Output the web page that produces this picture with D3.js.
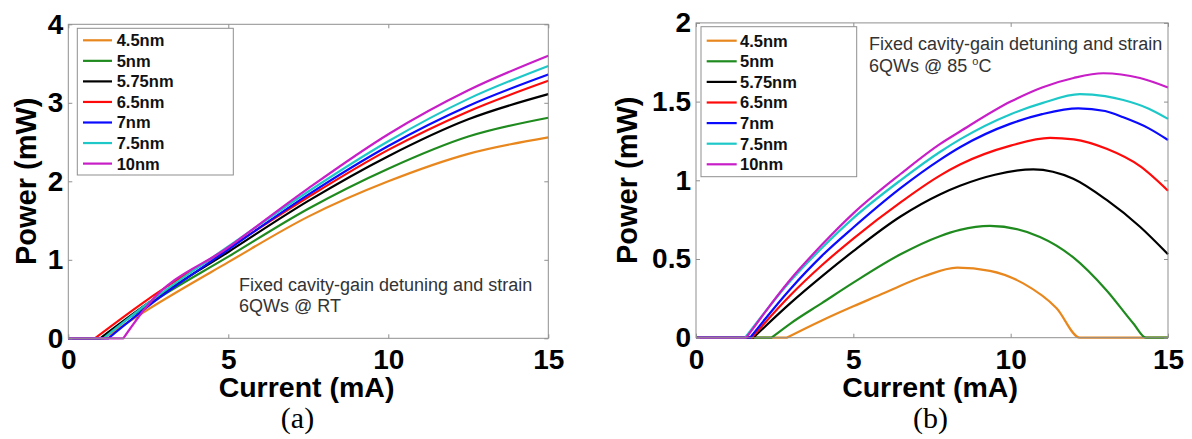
<!DOCTYPE html>
<html>
<head>
<meta charset="utf-8">
<script src="https://cdn.jsdelivr.net/npm/d3@7"></script>
<style>
  html, body { margin: 0; padding: 0; background: #fff; }
  svg { display: block; }
</style>
</head>
<body>
<svg id="chart" width="1192" height="439"></svg>
<script>
// ---------------- DATA ----------------
const seriesNames = ["4.5nm", "5nm", "5.75nm", "6.5nm", "7nm", "7.5nm", "10nm"];
const xTicks = [0, 5, 10, 15];
const yTicksA = [0, 1, 2, 3, 4];
const yTicksB = [0, 0.5, 1, 1.5, 2];
const xLabel = "Current (mA)";
const yLabel = "Power (mW)";
const noteA = ["Fixed cavity-gain detuning and strain", "6QWs @ RT"];
const noteB = ["Fixed cavity-gain detuning and strain", "6QWs @ 85 "];
const captions = ["(a)", "(b)"];

// Panel (a): room temperature, [current mA, power mW]
const rt_4_5nm  = [[0,0],[1.1,0],[2.5,0.37],[5,0.97],[7.5,1.55],[10,2.0],[12.5,2.35],[15,2.56]];
const rt_5nm    = [[0,0],[1.0,0],[2.5,0.43],[5,1.04],[7.5,1.65],[10,2.16],[12.5,2.57],[15,2.81]];
const rt_5_75nm = [[0,0],[1.0,0],[2.5,0.45],[5,1.10],[7.5,1.75],[10,2.32],[12.5,2.79],[15,3.11]];
const rt_6_5nm  = [[0,0],[0.83,0],[2.5,0.50],[5,1.15],[7.5,1.80],[10,2.40],[12.5,2.89],[15,3.28]];
const rt_7nm    = [[0,0],[1.25,0],[2.5,0.41],[5,1.13],[7.5,1.83],[10,2.45],[12.5,2.96],[15,3.36]];
const rt_7_5nm  = [[0,0],[1.1,0],[2.5,0.45],[5,1.17],[7.5,1.87],[10,2.51],[12.5,3.05],[15,3.47]];
const rt_10nm   = [[0,0],[1.72,0],[2.5,0.43],[5,1.16],[7.5,1.91],[10,2.60],[12.5,3.16],[15,3.60]];

// Panel (b): 85 C, [current mA, power mW]
const ht_4_5nm  = [[0,0],[2.88,0],[4,0.11],[5,0.2],[6,0.285],[6.5,0.33],[7.25,0.39],[8.3,0.445],[9.34,0.425],[10.4,0.345],[11.46,0.187],[12.2,0],[15,0]];
const ht_5nm    = [[0,0],[2.4,0],[3,0.09],[4,0.22],[5,0.35],[6.5,0.53],[7.75,0.645],[8.39,0.685],[9.34,0.71],[10.93,0.64],[11.99,0.51],[13.05,0.30],[13.9,0.09],[14.3,0],[15,0]];
const ht_5_75nm = [[0,0],[1.82,0],[3,0.22],[4,0.39],[5,0.55],[6.5,0.77],[7.75,0.91],[8.39,0.965],[9.5,1.035],[10.72,1.07],[11.99,1.01],[13.05,0.875],[14.11,0.705],[15,0.53]];
const ht_6_5nm  = [[0,0],[1.77,0],[3,0.27],[4,0.46],[5,0.63],[6.5,0.86],[7.75,1.03],[8.39,1.1],[10,1.22],[11.25,1.27],[12,1.26],[13.05,1.2],[14.11,1.09],[15,0.934]];
const ht_7nm    = [[0,0],[1.72,0],[3,0.31],[4,0.52],[5,0.70],[6.5,0.95],[7.75,1.13],[8.39,1.21],[10,1.36],[11,1.42],[12.15,1.457],[13,1.44],[13.58,1.40],[14.39,1.33],[15,1.256]];
const ht_7_5nm  = [[0,0],[1.56,0],[3,0.36],[4,0.57],[5,0.76],[6.5,1.0],[7.75,1.18],[8.39,1.26],[10,1.42],[11,1.49],[12.2,1.548],[13,1.535],[13.58,1.51],[14.39,1.455],[15,1.39]];
const ht_10nm   = [[0,0],[1.6,0],[3,0.37],[4,0.59],[5,0.79],[6.5,1.04],[7.75,1.23],[8.39,1.31],[10,1.50],[11,1.59],[12,1.65],[12.94,1.68],[14.11,1.65],[15,1.59]];

const seriesA = [rt_4_5nm, rt_5nm, rt_5_75nm, rt_6_5nm, rt_7nm, rt_7_5nm, rt_10nm];
const seriesB = [ht_4_5nm, ht_5nm, ht_5_75nm, ht_6_5nm, ht_7nm, ht_7_5nm, ht_10nm];

// ---------------- STYLE ----------------
const colors = ["#e8871e", "#1f8b1f", "#000000", "#ff0a0a", "#0a0aff", "#1ec8c8", "#c81ec8"];
const axisColor = "#8f8f8f";
const sans = "'Liberation Sans', Arial, Helvetica, sans-serif";
const serif = "'Liberation Serif', 'Times New Roman', serif";

const svg = d3.select("#chart");

function drawPanel(o) {
  const x = d3.scaleLinear().domain([0, 15]).range([o.x0, o.x1]);
  const y = d3.scaleLinear().domain([0, o.ymax]).range([o.y0, o.y1]);
  const g = svg.append("g");

  // data lines: flat part below threshold is straight, rest is smooth
  const mono = d3.line().x(d => x(d[0])).y(d => y(d[1])).curve(d3.curveMonotoneX);
  o.series.forEach((s, i) => {
    let k = 0;
    while (k + 1 < s.length && s[k + 1][1] === 0) k++;
    const tail = mono(s.slice(k));
    const d = `M${x(s[0][0])},${y(s[0][1])}L` + tail.slice(1);
    g.append("path").attr("d", d)
      .attr("fill", "none").attr("stroke", colors[i])
      .attr("stroke-width", 2.2).attr("stroke-linejoin", "round");
  });

  // axes with inward ticks
  const fmt = d3.format("~g");
  const styleAxis = sel => {
    sel.select(".domain").remove();
    sel.selectAll(".tick line").attr("stroke", axisColor).attr("stroke-width", 1);
    sel.selectAll(".tick text").attr("fill", "#000").style("font-family", sans)
      .style("font-weight", "bold").style("font-size", "28px");
  };
  g.append("g").attr("transform", `translate(0,${o.y0})`)
    .call(d3.axisBottom(x).tickValues(xTicks).tickSizeInner(-4).tickSizeOuter(0).tickPadding(11).tickFormat(fmt))
    .call(styleAxis);
  g.append("g").attr("transform", `translate(0,${o.y1})`)
    .call(d3.axisTop(x).tickValues(xTicks).tickSizeInner(-4).tickSizeOuter(0).tickFormat(""))
    .call(styleAxis);
  g.append("g").attr("transform", `translate(${o.x0},0)`)
    .call(d3.axisLeft(y).tickValues(o.yTicks).tickSizeInner(-4).tickSizeOuter(0).tickPadding(5).tickFormat(fmt))
    .call(styleAxis);
  g.append("g").attr("transform", `translate(${o.x1},0)`)
    .call(d3.axisRight(y).tickValues(o.yTicks).tickSizeInner(-4).tickSizeOuter(0).tickFormat(""))
    .call(styleAxis);

  // box
  g.append("rect").attr("x", o.x0).attr("y", o.y1)
    .attr("width", o.x1 - o.x0).attr("height", o.y0 - o.y1)
    .attr("fill", "none").attr("stroke", axisColor).attr("stroke-width", 1);

  // legend
  const L = o.legend;
  g.append("rect").attr("x", L.x).attr("y", L.y).attr("width", L.w).attr("height", L.h)
    .attr("fill", "#fff").attr("stroke", axisColor).attr("stroke-width", 1);
  seriesNames.forEach((name, i) => {
    const cy = L.row0 + i * L.step;
    g.append("line").attr("x1", L.lx0).attr("x2", L.lx1).attr("y1", cy).attr("y2", cy)
      .attr("stroke", colors[i]).attr("stroke-width", 2.2);
    g.append("text").attr("x", L.tx).attr("y", cy).attr("dy", "0.36em")
      .style("font-family", sans).style("font-weight", "bold").style("font-size", "16.5px")
      .attr("fill", "#111").text(name);
  });

  // annotation
  const N = o.note;
  g.append("text").attr("x", N.x).attr("y", N.y1)
    .style("font-family", sans).style("font-size", "18px").attr("fill", "#333").text(N.lines[0]);
  const t2 = g.append("text").attr("x", N.x).attr("y", N.y2)
    .style("font-family", sans).style("font-size", "18px").attr("fill", "#333").text(N.lines[1]);
  if (N.sup) {
    t2.append("tspan").attr("dy", -7).style("font-size", "11px").text("o");
    t2.append("tspan").attr("dy", 7).text("C");
  }

  // axis titles
  g.append("text").attr("x", o.xTitleX).attr("y", 397).attr("text-anchor", "middle")
    .style("font-family", sans).style("font-weight", "bold").style("font-size", "28.5px")
    .attr("fill", "#000").text(xLabel);
  g.append("text").attr("transform", `translate(${o.yTitleX},${(o.y0 + o.y1) / 2}) rotate(-90)`)
    .attr("text-anchor", "middle")
    .style("font-family", sans).style("font-weight", "bold").style("font-size", "29px")
    .attr("fill", "#000").text(yLabel);

  // caption
  g.append("text").attr("x", o.capX).attr("y", 428).attr("text-anchor", "middle")
    .style("font-family", serif).style("font-size", "30px").attr("fill", "#000").text(o.caption);
}

drawPanel({
  x0: 68.3, x1: 548.3, y0: 338.3, y1: 24.3, ymax: 4, yTicks: yTicksA, series: seriesA,
  legend: { x: 77.3, y: 28.3, w: 156, h: 146.7, row0: 40.3, step: 20.55, lx0: 83, lx1: 112, tx: 116.7 },
  note: { x: 239, y1: 290.7, y2: 311.7, lines: noteA, sup: false },
  xTitleX: 306.5, yTitleX: 36, capX: 297.5, caption: captions[0]
});

drawPanel({
  x0: 696, x1: 1168, y0: 337.7, y1: 22.9, ymax: 2, yTicks: yTicksB, series: seriesB,
  legend: { x: 701, y: 26.7, w: 155.7, h: 150, row0: 40.7, step: 20.6, lx0: 706.7, lx1: 736.7, tx: 740 },
  note: { x: 869, y1: 50, y2: 71.7, lines: noteB, sup: true },
  xTitleX: 930, yTitleX: 637, capX: 930.5, caption: captions[1]
});
</script>
</body>
</html>
